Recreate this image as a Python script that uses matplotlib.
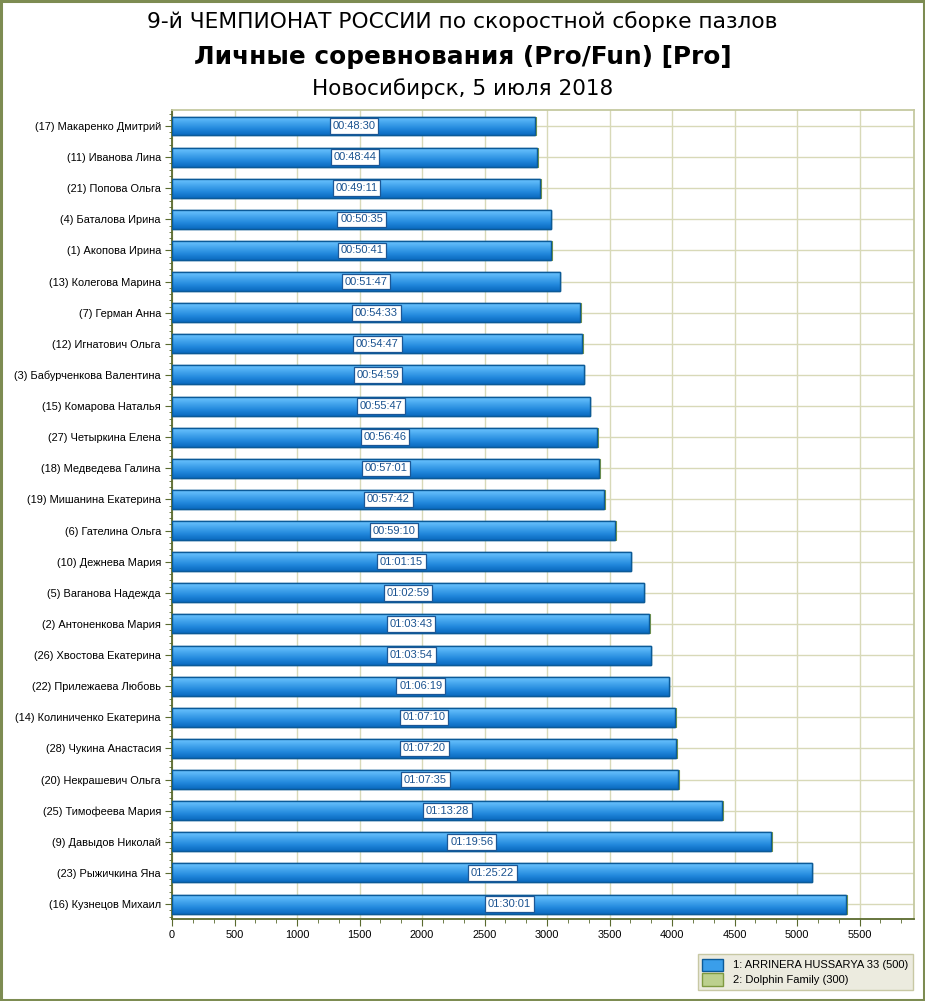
"""
Chart: 9th Russian speed puzzle championship, individual Pro results
"""
import numpy as np
import matplotlib
matplotlib.use("Agg")
import matplotlib.pyplot as plt
from matplotlib.ticker import MultipleLocator, FixedLocator
from matplotlib.patches import Rectangle

names = ["(17) Макаренко Дмитрий", "(11) Иванова Лина", "(21) Попова Ольга",
         "(4) Баталова Ирина", "(1) Акопова Ирина", "(13) Колегова Марина",
         "(7) Герман Анна", "(12) Игнатович Ольга", "(3) Бабурченкова Валентина",
         "(15) Комарова Наталья", "(27) Четыркина Елена", "(18) Медведева Галина",
         "(19) Мишанина Екатерина", "(6) Гателина Ольга", "(10) Дежнева Мария",
         "(5) Ваганова Надежда", "(2) Антоненкова Мария", "(26) Хвостова Екатерина",
         "(22) Прилежаева Любовь", "(14) Колиниченко Екатерина", "(28) Чукина Анастасия",
         "(20) Некрашевич Ольга", "(25) Тимофеева Мария", "(9) Давыдов Николай",
         "(23) Рыжичкина Яна", "(16) Кузнецов Михаил"]

time_labels = ["00:48:30", "00:48:44", "00:49:11", "00:50:35", "00:50:41", "00:51:47",
               "00:54:33", "00:54:47", "00:54:59", "00:55:47", "00:56:46", "00:57:01",
               "00:57:42", "00:59:10", "01:01:15", "01:02:59", "01:03:43", "01:03:54",
               "01:06:19", "01:07:10", "01:07:20", "01:07:35", "01:13:28", "01:19:56",
               "01:25:22", "01:30:01"]

# seconds for puzzle 1 (blue) and the thin puzzle 2 sliver (green)
puzzle1 = [2904, 2918, 2945, 3029, 3035, 3101, 3267, 3281, 3293, 3341, 3400, 3415,
           3456, 3544, 3669, 3773, 3817, 3828, 3973, 4024, 4034, 4049, 4402, 4790,
           5116, 5395]
puzzle2 = [6] * 26

legend_names = ["1: ARRINERA HUSSARYA 33 (500)", "2: Dolphin Family (300)"]

small_font = "Liberation Sans"

W, H = 925, 1001
fig = plt.figure(figsize=(W / 100, H / 100), dpi=100)
fig.patch.set_facecolor("white")

# outer border
fig.add_artist(Rectangle((0.001, 0.001), 0.998, 0.998, transform=fig.transFigure,
                         fill=False, edgecolor="#7d8c52", linewidth=2.2))

fig.text(0.5, 1 - 22 / H, "9-й ЧЕМПИОНАТ РОССИИ по скоростной сборке пазлов",
         ha="center", va="center", fontsize=15.7, color="black")
fig.text(0.5, 1 - 57 / H, "Личные соревнования (Pro/Fun) [Pro]",
         ha="center", va="center", fontsize=17.8, fontweight="bold", color="black")
fig.text(0.5, 1 - 89 / H, "Новосибирск, 5 июля 2018",
         ha="center", va="center", fontsize=15.5, color="black")

left, right, top, bottom = 172, 914, 110, 919
ax = fig.add_axes([left / W, 1 - bottom / H, (right - left) / W, (bottom - top) / H])

y = np.arange(len(names))
p1 = np.array(puzzle1)
p2 = np.array(puzzle2)
total = p1 + p2

ax.set_xlim(0, (right - left) / 0.125)
ax.set_ylim(25.48, -0.514)

bars1 = ax.barh(y, p1, height=0.61, color="#2b8ee0", edgecolor="#0b5a98",
                linewidth=1.0, zorder=3)
bars2 = ax.barh(y, p2, left=p1, height=0.61, color="#a8c070", edgecolor="#7f9a40",
                linewidth=0.8, zorder=3)

# vertical gradient inside the blue bars (light on top, dark at the bottom)
grad = np.linspace(0, 1, 64).reshape(-1, 1)
cmap = matplotlib.colors.LinearSegmentedColormap.from_list(
    "barblue", ["#0a6ac0", "#2288dc", "#45a6ee", "#6cc4ff"])
for b in bars1:
    x0, y0 = b.get_x(), b.get_y()
    im = ax.imshow(grad, cmap=cmap, aspect="auto",
                   extent=[x0, x0 + b.get_width(), y0, y0 + b.get_height()],
                   zorder=3.1, interpolation="bilinear")
    im.set_clip_path(b)
for b in bars1:
    ax.add_patch(Rectangle((b.get_x(), b.get_y()), b.get_width(), b.get_height(),
                           fill=False, edgecolor="#0b5a98", linewidth=1.0, zorder=3.2))

for yi, t, lab in zip(y, total, time_labels):
    ax.text(t / 2, yi, lab, ha="center", va="center", fontsize=8, color="#1b5390",
            family=small_font, zorder=5,
            bbox=dict(boxstyle="square,pad=0.25", facecolor="white",
                      edgecolor="#1b5796", linewidth=0.9))

ax.set_yticks(y)
ax.set_yticklabels(names, fontsize=7.9, family=small_font)
minor_y = [i + k * 0.2 for i in range(-1, len(names)) for k in range(1, 5)]
ax.yaxis.set_minor_locator(FixedLocator(minor_y))
ax.xaxis.set_major_locator(MultipleLocator(500))
ax.xaxis.set_minor_locator(MultipleLocator(500 / 3))
ax.tick_params(axis="x", which="major", labelsize=7.9, length=5, color="#5a6a2e", pad=3)
ax.tick_params(axis="x", which="minor", length=3, color="#5a6a2e")
ax.tick_params(axis="y", which="major", length=5, color="#5a6a2e", pad=3)
ax.tick_params(axis="y", which="minor", direction="out", length=2.5, color="#5a6a2e")
for lbl in ax.get_xticklabels():
    lbl.set_family(small_font)

ax.grid(True, which="major", color="#d8d9b8", linewidth=1.0, zorder=0)
ax.set_axisbelow(True)
for s in ["left", "bottom"]:
    ax.spines[s].set_color("#5a6a2e")
    ax.spines[s].set_linewidth(1.3)
for s in ["top", "right"]:
    ax.spines[s].set_color("#c5c9a0")
    ax.spines[s].set_linewidth(1.3)

# legend
handles = [Rectangle((0, 0), 1, 1, facecolor="#3a9eea", edgecolor="#0b5a98"),
           Rectangle((0, 0), 1, 1, facecolor="#bcd08e", edgecolor="#7f9a40")]
leg = fig.legend(handles, legend_names, loc="lower right",
                 bbox_to_anchor=(913 / W, 1 - 990 / H), borderaxespad=0,
                 prop={"family": small_font, "size": 8.0},
                 frameon=True, fancybox=False, handlelength=1.9, handleheight=1.3,
                 borderpad=0.4, labelspacing=0.25, handletextpad=0.9)
leg.get_frame().set_facecolor("#ecebdf")
leg.get_frame().set_edgecolor("#c8c8a4")
leg.get_frame().set_alpha(1)

fig.savefig("out.png", dpi=100)
